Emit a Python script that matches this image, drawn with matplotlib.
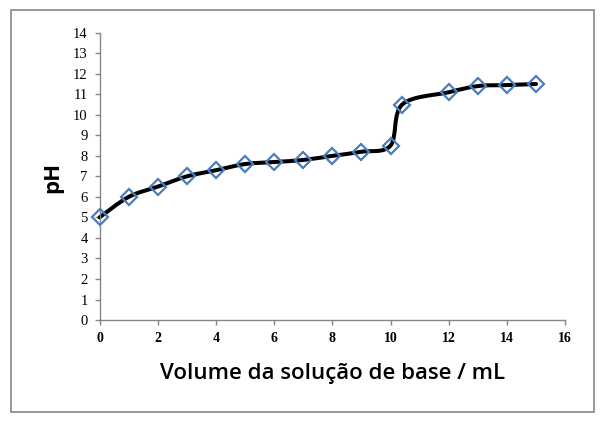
import numpy as np
import matplotlib
matplotlib.use("Agg")
import matplotlib.pyplot as plt
from matplotlib.path import Path
from matplotlib.patches import PathPatch, Rectangle

volume = [0, 1, 2, 3, 4, 5, 6, 7, 8, 9, 10, 10.4, 12, 13, 14, 15]
ph = [5.0, 6.0, 6.5, 7.0, 7.3, 7.6, 7.7, 7.8, 8.0, 8.2, 8.5, 10.5, 11.1, 11.4, 11.45, 11.5]
x_ticks = list(range(0, 17, 2))
y_ticks = list(range(0, 15))
x_label = "Volume da solução de base / mL"
y_label = "pH"

fig = plt.figure(figsize=(6.07, 4.25), dpi=100)
ax = fig.add_axes([0.164, 0.247, 0.767, 0.676])

# Smoothed line (Catmull-Rom style bezier, like spreadsheet smoothed lines)
x = np.asarray(volume, float)
y = np.asarray(ph, float)
verts = [(x[0], y[0])]
codes = [Path.MOVETO]
n = len(x)
for i in range(n - 1):
    x0, y0 = (x[i - 1], y[i - 1]) if i > 0 else (x[i], y[i])
    x3, y3 = (x[i + 2], y[i + 2]) if i + 2 < n else (x[i + 1], y[i + 1])
    c1 = (x[i] + (x[i + 1] - x0) / 6.0, y[i] + (y[i + 1] - y0) / 6.0)
    c2 = (x[i + 1] - (x3 - x[i]) / 6.0, y[i + 1] - (y3 - y[i]) / 6.0)
    verts += [c1, c2, (x[i + 1], y[i + 1])]
    codes += [Path.CURVE4] * 3
ax.add_patch(PathPatch(Path(verts, codes), facecolor="none", edgecolor="black",
                       lw=2.9, capstyle="round", joinstyle="round", zorder=2,
                       clip_on=False))

ax.plot(volume, ph, linestyle="none", marker="D", markersize=8.5,
        markerfacecolor="none", markeredgecolor="#4a7ebb", markeredgewidth=1.6,
        zorder=3, clip_on=False)

ax.set_xlim(0, 16)
ax.set_ylim(0, 14)
ax.set_xticks(x_ticks)
ax.set_yticks(y_ticks)
for s in ["top", "right"]:
    ax.spines[s].set_visible(False)
for s in ["left", "bottom"]:
    ax.spines[s].set_color("#868686")
    ax.spines[s].set_linewidth(1.0)
ax.tick_params(axis="both", direction="out", length=3.6, width=1.0, color="#868686", pad=5)
for lab in ax.get_xticklabels():
    lab.set_fontfamily("Liberation Serif")
    lab.set_fontsize(10)
    lab.set_fontweight("bold")
for lab in ax.get_yticklabels():
    lab.set_fontfamily("Liberation Serif")
    lab.set_fontsize(10.5)

fig.text(333 / 607, 1 - 373 / 425, x_label, ha="center", va="center",
         fontsize=16, fontfamily="Open Sans", fontweight="semibold")
fig.text(53 / 607, 1 - 177 / 425, y_label, ha="center", va="center", rotation=90,
         fontsize=16, fontfamily="Open Sans", fontweight="bold")

fig.patches.append(Rectangle((11 / 607, 1 - 412 / 425), 583 / 607, 402 / 425,
                             transform=fig.transFigure, fill=False,
                             edgecolor="#888888", lw=1.2))

fig.savefig("out.png", dpi=100)
